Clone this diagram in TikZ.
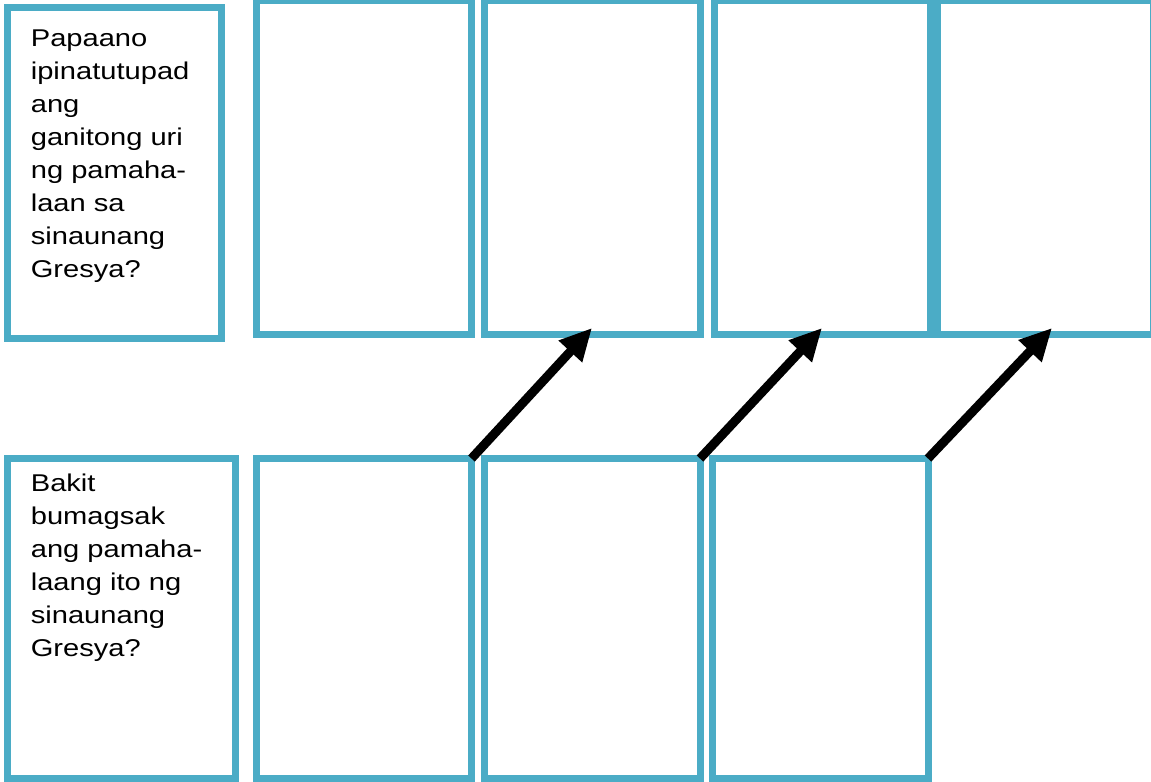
\documentclass[tikz,border=0pt]{standalone}
\usepackage{fontspec}
\setmainfont{Liberation Sans}[FakeStretch=1.2]
\usepackage{tikz}
\usetikzlibrary{arrows.meta,positioning}
\usepackage{xcolor}
\definecolor{cellblue}{HTML}{4BACC6}

\begin{document}
\begin{tikzpicture}[
    cell/.style={rectangle, draw=cellblue, line width=0.14cm, outer sep=0pt, inner sep=0pt, minimum width=4.32cm, minimum height=6.67cm},
    lowcell/.style={cell, minimum height=6.39cm},
    question/.style={anchor=north west, inner sep=0pt, align=left, font=\fontsize{13.8}{18.78}\selectfont},
    arrow/.style={-{Triangle[length=0.64cm, width=0.6cm]}, line width=0.18cm, black}
]
\useasboundingbox (0,0) rectangle (23.02,-15.64);

% Top row
\node[cell, anchor=north west, minimum width=4.28cm, minimum height=6.63cm] (q1) at (0.15,-0.14) {};
\node[question] (q1text) at (0.61,-0.58) {Papaano\\ipinatutupad\\ang\\ganitong uri\\ng pamaha-\\laan sa\\sinaunang\\Gresya?};
\node[cell, anchor=north west, minimum width=4.30cm] (t2) at (5.13,-0.01) {};
\node[cell, right=0.25cm of t2] (t3) {};
\node[cell, right=0.28cm of t3] (t4) {};
\node[cell, right=0.15cm of t4] (t5) {};

% Bottom row
\node[lowcell, anchor=north west, minimum width=4.56cm, minimum height=6.40cm] (q2) at (0.15,-9.17) {};
\node[question] (q2text) at (0.61,-9.48) {Bakit\\bumagsak\\ang pamaha-\\laang ito ng\\sinaunang\\Gresya?};
\node[lowcell, anchor=north west, minimum width=4.30cm] (b2) at (5.13,-9.17) {};
\node[lowcell, right=0.25cm of b2] (b3) {};
\node[lowcell, right=0.25cm of b3, minimum width=4.31cm] (b4) {};

% Arrows
\draw[arrow] (b2.north east) -- ([yshift=0.12cm]t3.south);
\draw[arrow] (b3.north east) -- ([yshift=0.12cm]t4.south);
\draw[arrow] (b4.north east) -- ([xshift=0.13cm, yshift=0.12cm]t5.south);

\end{tikzpicture}
\end{document}
